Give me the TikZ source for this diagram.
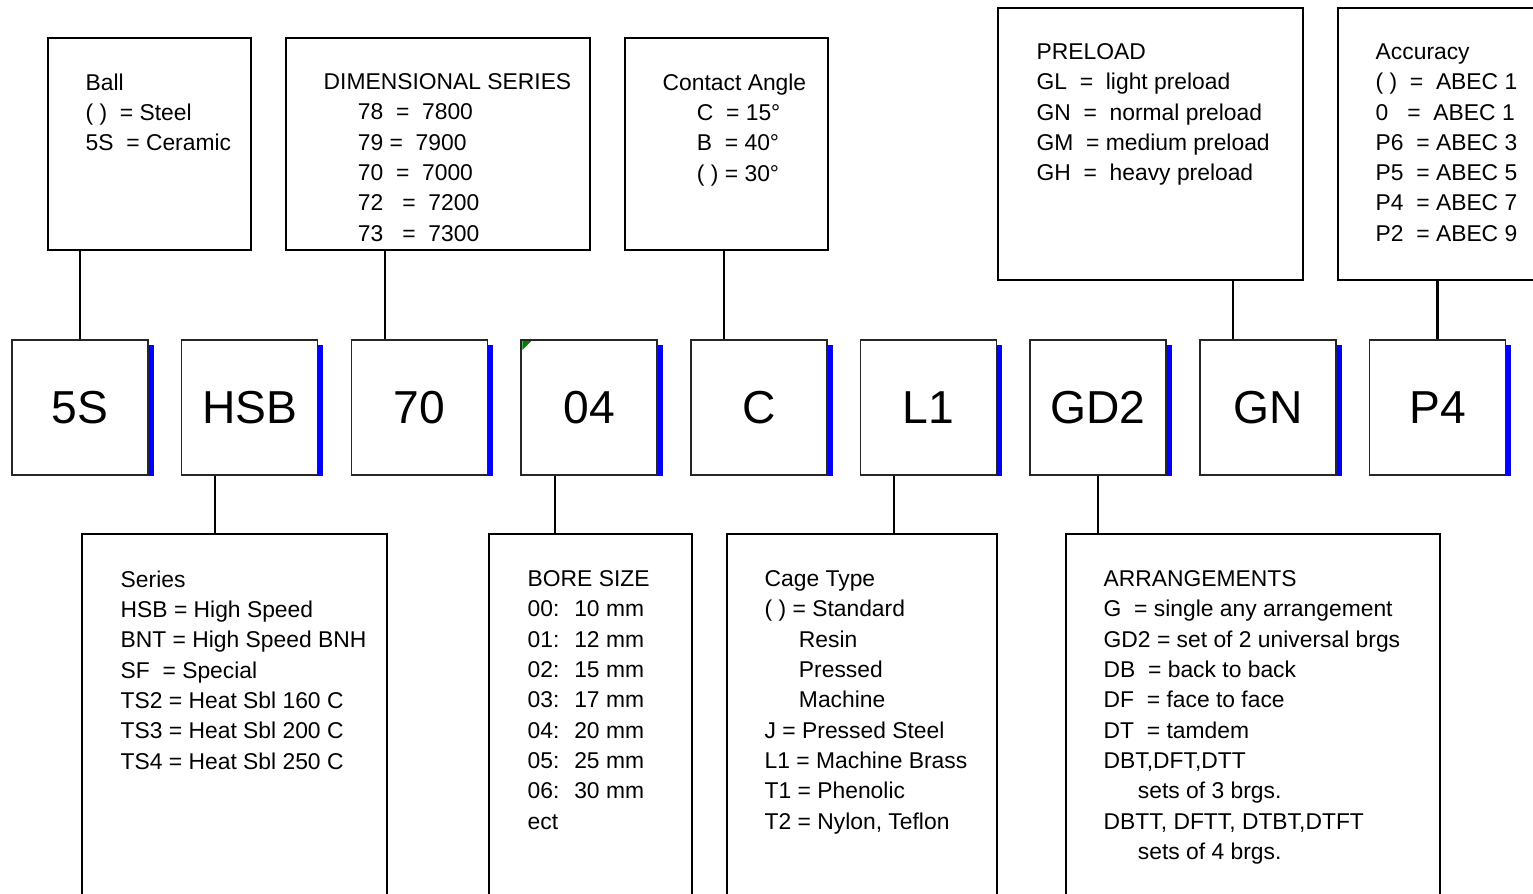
\documentclass[tikz,border=0pt]{standalone}
\usepackage{fontspec}
\setmainfont{Liberation Sans}
\usetikzlibrary{positioning,calc}

\newcommand{\ind}{\hspace*{1.5em}}

\begin{document}
\begin{tikzpicture}[thick,node distance=0.642cm,
  code/.style={draw=black!85,line width=0.9pt,minimum width=2.72cm,
    minimum height=2.7cm,inner sep=0pt,font=\fontsize{26.3}{30}\selectfont},
  infobox/.style={draw,line width=1.2pt,anchor=north west,inner sep=0pt},
  info/.style={anchor=north west,inner sep=0pt,align=left,
    font=\fontsize{13}{17.25}\selectfont},
  link/.style={line width=1.2pt}]

  \clip (0,0) rectangle (30.66,-17.88);

  % part number, one box per field
  \node[code] (c5S) at (1.60,-8.15) {5S};
  \node[code] (cHSB) [right=of c5S] {HSB};
  \node[code] (c70) [right=of cHSB] {70};
  \node[code] (c04) [right=of c70] {04};
  \node[code] (cC) [right=of c04] {C};
  \node[code] (cL1) [right=of cC] {L1};
  \node[code] (cGD2) [right=of cL1] {GD2};
  \node[code] (cGN) [right=of cGD2] {GN};
  \node[code] (cP4) [right=of cGN] {P4};

  \foreach \n in {c5S,cHSB,c70,c04,cC,cL1,cGD2,cGN,cP4}
    \fill[blue] ([yshift=-0.11cm]\n.north east) rectangle ([xshift=0.1cm]\n.south east);
  \fill[green!50!black] ([shift={(0.04,-0.04)}]c04.north west) -- ++(0.18,0) -- ++(-0.18,-0.18) -- cycle;

  % upper legends
  \node[infobox,minimum width=4.06cm,minimum height=4.24cm] (ball) at (0.94,-0.74) {};
  \node[infobox,minimum width=6.08cm,minimum height=4.24cm] (dims) at (5.70,-0.74) {};
  \node[infobox,minimum width=4.06cm,minimum height=4.24cm] (angle) at (12.48,-0.74) {};
  \node[infobox,minimum width=6.10cm,minimum height=5.44cm] (preload) at (19.94,-0.14) {};
  \node[infobox,minimum width=5.00cm,minimum height=5.44cm] (accuracy) at (26.74,-0.14) {};

  \node[info] (ballTxt) at ([shift={(0.76,-0.72)}]ball.north west)
    {Ball\\( )~ = Steel\\5S~ = Ceramic};
  \node[info] (dimsTxt) at ([shift={(0.76,-0.72)}]dims.north west)
    {DIMENSIONAL SERIES\\\ind 78~ =~ 7800\\\ind 79 =~ 7900\\\ind 70~ =~ 7000\\
     \ind 72~~ =~ 7200\\\ind 73~~ =~ 7300};
  \node[info] (angleTxt) at ([shift={(0.76,-0.72)}]angle.north west)
    {Contact Angle\\\ind C~ = 15°\\\ind B~ = 40°\\\ind ( ) = 30°};
  \node[info] (preloadTxt) at ([shift={(0.78,-0.72)}]preload.north west)
    {PRELOAD\\GL~ =~ light preload\\GN~ =~ normal preload\\GM~ = medium preload\\
     GH~ =~ heavy preload};
  \node[info] (accuracyTxt) at ([shift={(0.76,-0.72)}]accuracy.north west)
    {Accuracy\\( )~ =~ ABEC 1\\0~~ =~ ABEC 1\\P6~ = ABEC 3\\P5~ = ABEC 5\\
     P4~ = ABEC 7\\P2~ = ABEC 9};

  % lower legends
  \node[infobox,minimum width=6.10cm,minimum height=8cm] (series) at (1.62,-10.66) {};
  \node[infobox,minimum width=4.06cm,minimum height=8cm] (bore) at (9.76,-10.66) {};
  \node[infobox,minimum width=5.40cm,minimum height=8cm] (cage) at (14.52,-10.66) {};
  \node[infobox,minimum width=7.48cm,minimum height=8cm] (arrange) at (21.30,-10.66) {};

  \node[info] (seriesTxt) at ([shift={(0.78,-0.74)}]series.north west)
    {Series\\HSB = High Speed\\BNT = High Speed BNH\\SF~ = Special\\
     TS2 = Heat Sbl 160 C\\TS3 = Heat Sbl 200 C\\TS4 = Heat Sbl 250 C};
  \node[info] (boreTxt) at ([shift={(0.78,-0.74)}]bore.north west)
    {BORE SIZE\\00:~ 10 mm\\01:~ 12 mm\\02:~ 15 mm\\03:~ 17 mm\\
     04:~ 20 mm\\05:~ 25 mm\\06:~ 30 mm\\ect};
  \node[info] (cageTxt) at ([shift={(0.76,-0.74)}]cage.north west)
    {Cage Type\\( ) = Standard\\\ind Resin\\\ind Pressed\\\ind Machine\\
     J = Pressed Steel\\L1 = Machine Brass\\T1 = Phenolic\\T2 = Nylon, Teflon};
  \node[info] (arrangeTxt) at ([shift={(0.76,-0.74)}]arrange.north west)
    {ARRANGEMENTS\\G~ = single any arrangement\\GD2 = set of 2 universal brgs\\
     DB~ = back to back\\DF~ = face to face\\DT~ = tamdem\\DBT,DFT,DTT\\
     \ind sets of 3 brgs.\\DBTT, DFTT, DTBT,DTFT\\\ind sets of 4 brgs.};

  % connectors
  \coordinate (t70) at ($(c70.north west)!.25!(c70.north east)$);
  \coordinate (tC) at ($(cC.north west)!.25!(cC.north east)$);
  \coordinate (tGN) at ($(cGN.north west)!.25!(cGN.north east)$);
  \coordinate (bHSB) at ($(cHSB.south west)!.25!(cHSB.south east)$);
  \coordinate (b04) at ($(c04.south west)!.25!(c04.south east)$);
  \coordinate (bL1) at ($(cL1.south west)!.25!(cL1.south east)$);

  \draw[link] (c5S.north) -- (c5S.north |- ball.south);
  \draw[link] (t70) -- (t70 |- dims.south);
  \draw[link] (tC) -- (tC |- angle.south);
  \draw[link] (tGN) -- (tGN |- preload.south);
  \draw[link] (cP4.north) -- (cP4.north |- accuracy.south);
  \draw[link] (bHSB) -- (bHSB |- series.north);
  \draw[link] (b04) -- (b04 |- bore.north);
  \draw[link] (bL1) -- (bL1 |- cage.north);
  \draw[link] (cGD2.south) -- (cGD2.south |- arrange.north);
\end{tikzpicture}
\end{document}
